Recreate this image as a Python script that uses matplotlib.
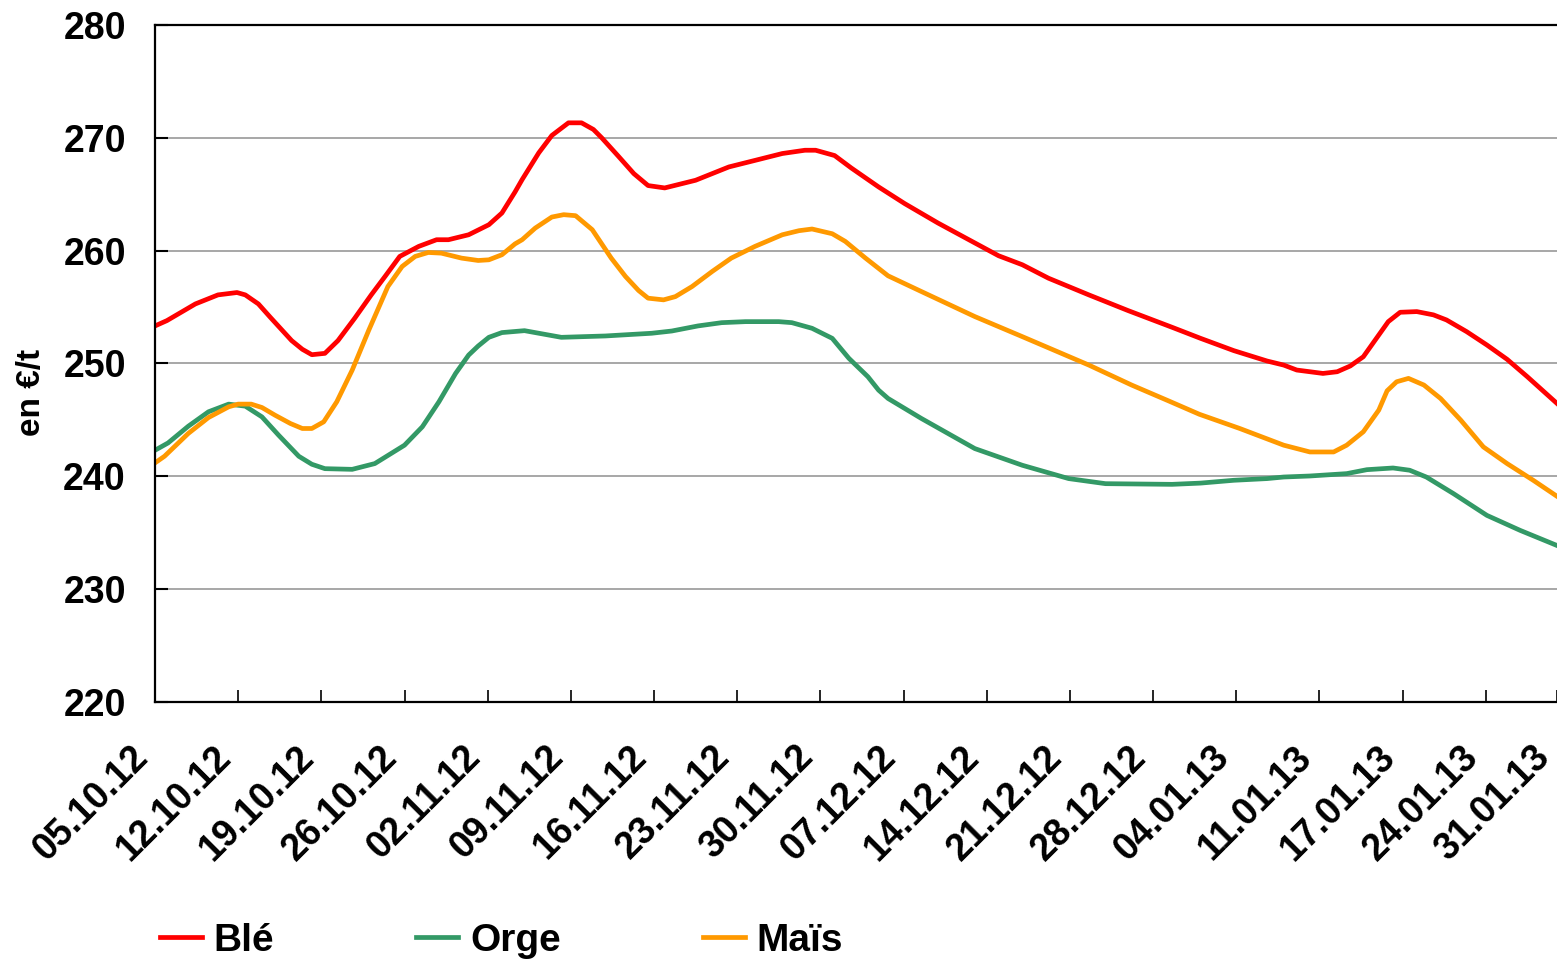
import numpy as np
import matplotlib
matplotlib.use("Agg")
import matplotlib.pyplot as plt

# days counted from 05.10.12, prices in EUR/t
ble_days = [0, 1.0, 3.4, 5.3, 6.9, 7.6, 8.7, 9.7, 10.5, 11.5, 12.4, 13.2, 14.3, 15.4, 16.8,
            18.2, 19.4, 20.6, 22.2, 23.7, 24.7, 26.4, 28.1, 29.2, 30.3, 30.9, 32.3, 33.4,
            34.8, 35.9, 36.9, 37.6, 39.0, 40.3, 41.5, 42.9, 45.5, 48.3, 50.8, 52.8, 54.7,
            55.6, 57.2, 58.6, 60.9, 63.1, 65.9, 68.5, 71.0, 73.0, 75.2, 78.6, 81.9, 85.6,
            88.0, 90.8, 93.6, 95.0, 96.1, 98.3, 99.5, 100.6, 101.7, 102.8, 103.8, 104.8,
            106.2, 107.6, 108.7, 110.4, 112.1, 113.8, 115.5, 118.0]
ble = [253.33, 253.8, 255.28, 256.08, 256.29, 256.08, 255.28, 254.1, 253.18, 252.03, 251.26,
       250.78, 250.9, 252.03, 254.0, 256.08, 257.77, 259.49, 260.38, 260.97, 260.97, 261.41,
       262.3, 263.34, 265.2, 266.3, 268.67, 270.21, 271.33, 271.33, 270.74, 270.0, 268.37,
       266.83, 265.77, 265.56, 266.24, 267.42, 268.08, 268.61, 268.9, 268.9, 268.43, 267.33,
       265.65, 264.17, 262.45, 260.97, 259.55, 258.75, 257.56, 256.08, 254.69, 253.21,
       252.23, 251.14, 250.22, 249.86, 249.42, 249.12, 249.27, 249.78, 250.6, 252.23, 253.71,
       254.54, 254.6, 254.31, 253.86, 252.82, 251.64, 250.37, 248.83, 246.46]

orge_days = [0, 1.1, 2.8, 4.5, 6.2, 7.6, 9.0, 10.4, 12.1, 13.2, 14.3, 16.6, 18.5, 21.0, 22.5,
             23.9, 25.3, 26.4, 27.2, 28.1, 29.2, 31.1, 34.2, 37.9, 41.8, 43.5, 45.7, 47.7,
             49.7, 52.5, 53.6, 55.3, 57.0, 58.4, 60.0, 60.9, 61.7, 64.5, 69.0, 73.0, 76.9,
             80.0, 85.6, 88.0, 90.8, 93.6, 95.0, 97.2, 100.3, 102.0, 104.2, 105.6, 107.0,
             109.3, 112.1, 114.9, 118.0]
orge = [242.31, 242.96, 244.44, 245.72, 246.4, 246.22, 245.27, 243.65, 241.78, 241.07, 240.68,
        240.62, 241.13, 242.76, 244.39, 246.61, 249.12, 250.75, 251.55, 252.32, 252.74, 252.91,
        252.32, 252.44, 252.68, 252.88, 253.33, 253.62, 253.71, 253.71, 253.62, 253.12, 252.23,
        250.46, 248.83, 247.64, 246.9, 245.13, 242.46, 240.98, 239.8, 239.35, 239.29, 239.4,
        239.65, 239.8, 239.94, 240.03, 240.24, 240.59, 240.74, 240.54, 239.94, 238.46, 236.54,
        235.21, 233.87]

mais_days = [0, 0.8, 2.8, 4.5, 6.2, 7.0, 8.1, 9.0, 10.1, 11.4, 12.4, 13.2, 14.2, 15.3, 16.6,
             18.0, 19.6, 20.8, 21.9, 23.0, 24.1, 25.8, 27.2, 28.1, 29.2, 30.3, 30.9, 32.0,
             33.4, 34.4, 35.4, 36.8, 38.4, 39.6, 40.7, 41.5, 42.8, 43.8, 45.2, 46.9, 48.5,
             50.5, 52.8, 54.2, 55.3, 57.0, 58.1, 59.8, 61.7, 64.5, 69.0, 73.0, 78.6, 82.2,
             85.3, 87.9, 91.3, 95.0, 97.2, 99.2, 100.3, 101.7, 103.0, 103.7, 104.5, 105.5,
             106.8, 108.2, 109.9, 111.8, 113.8, 116.0, 118.0]
mais = [241.19, 241.78, 243.8, 245.21, 246.16, 246.4, 246.4, 246.1, 245.42, 244.68, 244.24,
        244.24, 244.83, 246.61, 249.42, 252.97, 256.82, 258.6, 259.49, 259.84, 259.78, 259.34,
        259.13, 259.19, 259.64, 260.6, 260.97, 262.0, 262.98, 263.19, 263.1, 261.86, 259.34,
        257.71, 256.47, 255.79, 255.64, 255.93, 256.82, 258.16, 259.34, 260.38, 261.41,
        261.77, 261.92, 261.5, 260.82, 259.34, 257.77, 256.38, 254.16, 252.38, 249.86, 248.09,
        246.69, 245.5, 244.24, 242.76, 242.16, 242.16, 242.76, 243.95, 245.87, 247.58, 248.38,
        248.68, 248.09, 246.9, 244.98, 242.61, 241.13, 239.65, 238.23]

tick_days = [0, 7, 14, 21, 28, 35, 42, 49, 56, 63, 70, 77, 84, 91, 98, 105, 112, 118]
tick_labels = ["05.10.12", "12.10.12", "19.10.12", "26.10.12", "02.11.12", "09.11.12",
               "16.11.12", "23.11.12", "30.11.12", "07.12.12", "14.12.12", "21.12.12",
               "28.12.12", "04.01.13", "11.01.13", "17.01.13", "24.01.13", "31.01.13"]

plt.rcParams['font.family'] = ['Liberation Sans', 'DejaVu Sans']
plt.rcParams['font.weight'] = 'bold'

fig = plt.figure(figsize=(15.57, 9.6), dpi=100)
ax = fig.add_axes([155 / 1557, 1 - 702 / 960, 1402 / 1557, 677 / 960])

ax.plot(ble_days, ble, color='#ff0000', lw=3.4, label='Blé')
ax.plot(orge_days, orge, color='#339966', lw=3.4, label='Orge')
ax.plot(mais_days, mais, color='#ff9900', lw=3.4, label='Maïs')

ax.set_xlim(0, 118)
ax.set_ylim(220, 280)
ax.set_yticks(np.arange(220, 281, 10))
ax.yaxis.grid(True, color='#a0a0a0', lw=1.3)
ax.set_axisbelow(True)

ax.set_xticks(tick_days)
ax.set_xticklabels(tick_labels, rotation=45, ha='right', va='bottom',
                   rotation_mode='anchor', fontsize=27, fontweight='bold')
ax.tick_params(axis='x', direction='in', length=9, width=1.2, pad=45)
ax.tick_params(axis='y', direction='in', length=9, width=1.5, pad=21, labelsize=27)

for side in ['left', 'bottom', 'top']:
    ax.spines[side].set_linewidth(1.6)
    ax.spines[side].set_color('black')
ax.spines['right'].set_visible(False)

fig.text(0.0205, 1 - 392 / 960, 'en €/t', rotation=90, ha='center', va='center',
         fontsize=24, fontweight='bold')

leg = fig.legend(loc='center left', bbox_to_anchor=(160 / 1557, 1 - 941 / 960), ncol=3,
                 frameon=False, fontsize=28, handlelength=1.08, handletextpad=0.3,
                 columnspacing=3.65, borderpad=0, borderaxespad=0)

fig.savefig('out.png', dpi=100)
